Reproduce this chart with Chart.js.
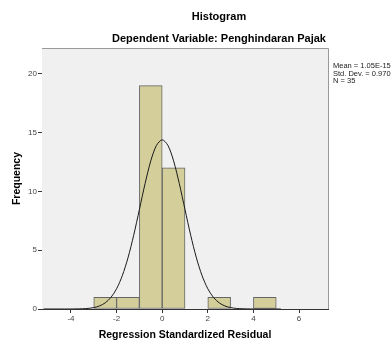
<!DOCTYPE html>
<html>
<head>
<meta charset="utf-8">
<script src="https://cdn.jsdelivr.net/npm/chart.js@4.4.1/dist/chart.umd.min.js"></script>
<style>
html,body{margin:0;padding:0;background:#fff;}
#wrap{width:391px;height:341px;position:relative;}
</style>
</head>
<body>
<div id="wrap"><canvas id="c" width="391" height="341"></canvas></div>
<script>
// Histogram bins (centers) and frequencies
const binCenters = [-2.5, -1.5, -0.5, 0.5, 2.5, 4.5];
const frequencies = [1, 1, 19, 12, 1, 1];
// Normal curve
const curveX = [-5.2, -4, -3.75, -3.5, -3.25, -3, -2.75, -2.5, -2.25, -2, -1.75, -1.5, -1.25, -1, -0.75, -0.5, -0.25, 0, 0.25, 0.5, 0.75, 1, 1.25, 1.5, 1.75, 2, 2.25, 2.5, 2.75, 3, 3.25, 3.5, 3.75, 4, 5.2];
const curveY = [0, 0, 0.01, 0.02, 0.05, 0.12, 0.26, 0.52, 0.98, 1.72, 2.83, 4.35, 6.27, 8.46, 10.67, 12.6, 13.92, 14.39, 13.92, 12.6, 10.67, 8.46, 6.27, 4.35, 2.83, 1.72, 0.98, 0.52, 0.26, 0.12, 0.05, 0.02, 0.01, 0, 0];
const xTicks = [-4, -2, 0, 2, 4, 6];
const yTicks = [0, 5, 10, 15, 20];
const titleText = 'Histogram';
const subtitleText = 'Dependent Variable: Penghindaran Pajak';
const statsLines = ['Mean = 1.05E-15', 'Std. Dev. = 0.970', 'N = 35'];
const xTitle = 'Regression Standardized Residual';
const yTitle = 'Frequency';

const FONT = '"Liberation Sans", Arial, sans-serif';

const decor = {
  id: 'decor',
  beforeDatasetsDraw(chart) {
    const {ctx, chartArea: a} = chart;
    ctx.save();
    ctx.fillStyle = '#f0f0f0';
    ctx.fillRect(a.left, a.top, a.right - a.left, a.bottom - a.top);
    ctx.restore();
  },
  afterDraw(chart) {
    const {ctx, chartArea: a} = chart;
    ctx.save();
    ctx.strokeStyle = '#999999';
    ctx.lineWidth = 1;
    ctx.beginPath();
    ctx.moveTo(a.left, a.top + 0.5);
    ctx.lineTo(a.right + 0.5, a.top + 0.5);
    ctx.lineTo(a.right + 0.5, a.bottom);
    ctx.stroke();
    ctx.fillStyle = '#000';
    ctx.textAlign = 'center';
    ctx.textBaseline = 'middle';
    ctx.font = 'bold 11px ' + FONT;
    ctx.fillText(titleText, 219, 17);
    ctx.fillText(subtitleText, 219, 39);
    ctx.textAlign = 'left';
    ctx.font = '7.5px ' + FONT;
    ctx.fillStyle = '#222';
    statsLines.forEach((s, i) => ctx.fillText(s, 333, 66 + i * 7.5));
    ctx.restore();
  }
};

new Chart(document.getElementById('c'), {
  type: 'bar',
  data: {
    datasets: [
      {
        type: 'line',
        data: curveX.map((x, i) => ({x, y: curveY[i]})),
        borderColor: '#1a1a1a',
        borderWidth: 1,
        pointRadius: 0,
        tension: 0.3,
        fill: false,
        order: 0
      },
      {
        type: 'bar',
        data: binCenters.map((x, i) => ({x, y: frequencies[i]})),
        backgroundColor: '#d3ce9a',
        borderColor: '#666666',
        borderWidth: 1,
        borderSkipped: false,
        categoryPercentage: 1,
        barPercentage: 1,
        order: 1
      }
    ]
  },
  options: {
    responsive: false,
    animation: false,
    events: [],
    layout: {padding: {left: 0, right: 63, top: 48, bottom: 0}},
    plugins: {legend: {display: false}, tooltip: {enabled: false}, title: {display: false}},
    scales: {
      x: {
        type: 'linear',
        min: -5.27,
        max: 7.27,
        offset: false,
        afterFit: s => { s.height = 32; },
        afterBuildTicks: s => { s.ticks = xTicks.map(v => ({value: v})); },
        grid: {display: true, drawOnChartArea: false, drawTicks: true, tickLength: 4, color: '#333', offset: false},
        border: {display: true, color: '#333', width: 1},
        ticks: {font: {family: FONT, size: 8}, color: '#444', padding: 1, maxRotation: 0},
        title: {display: true, text: xTitle, font: {family: FONT, size: 10.5, weight: 'bold'}, color: '#000', padding: {top: 4, bottom: 0}}
      },
      y: {
        min: 0,
        max: 22.2,
        afterFit: s => { s.width = 42; },
        afterBuildTicks: s => { s.ticks = yTicks.map(v => ({value: v})); },
        grid: {display: true, drawOnChartArea: false, drawTicks: true, tickLength: 4, color: '#333'},
        border: {display: true, color: '#333', width: 1},
        ticks: {font: {family: FONT, size: 8}, color: '#444', padding: 1},
        title: {display: true, text: yTitle, font: {family: FONT, size: 10.5, weight: 'bold'}, color: '#000', padding: {top: 11, bottom: 0}}
      }
    }
  },
  plugins: [decor]
});
</script>
</body>
</html>
